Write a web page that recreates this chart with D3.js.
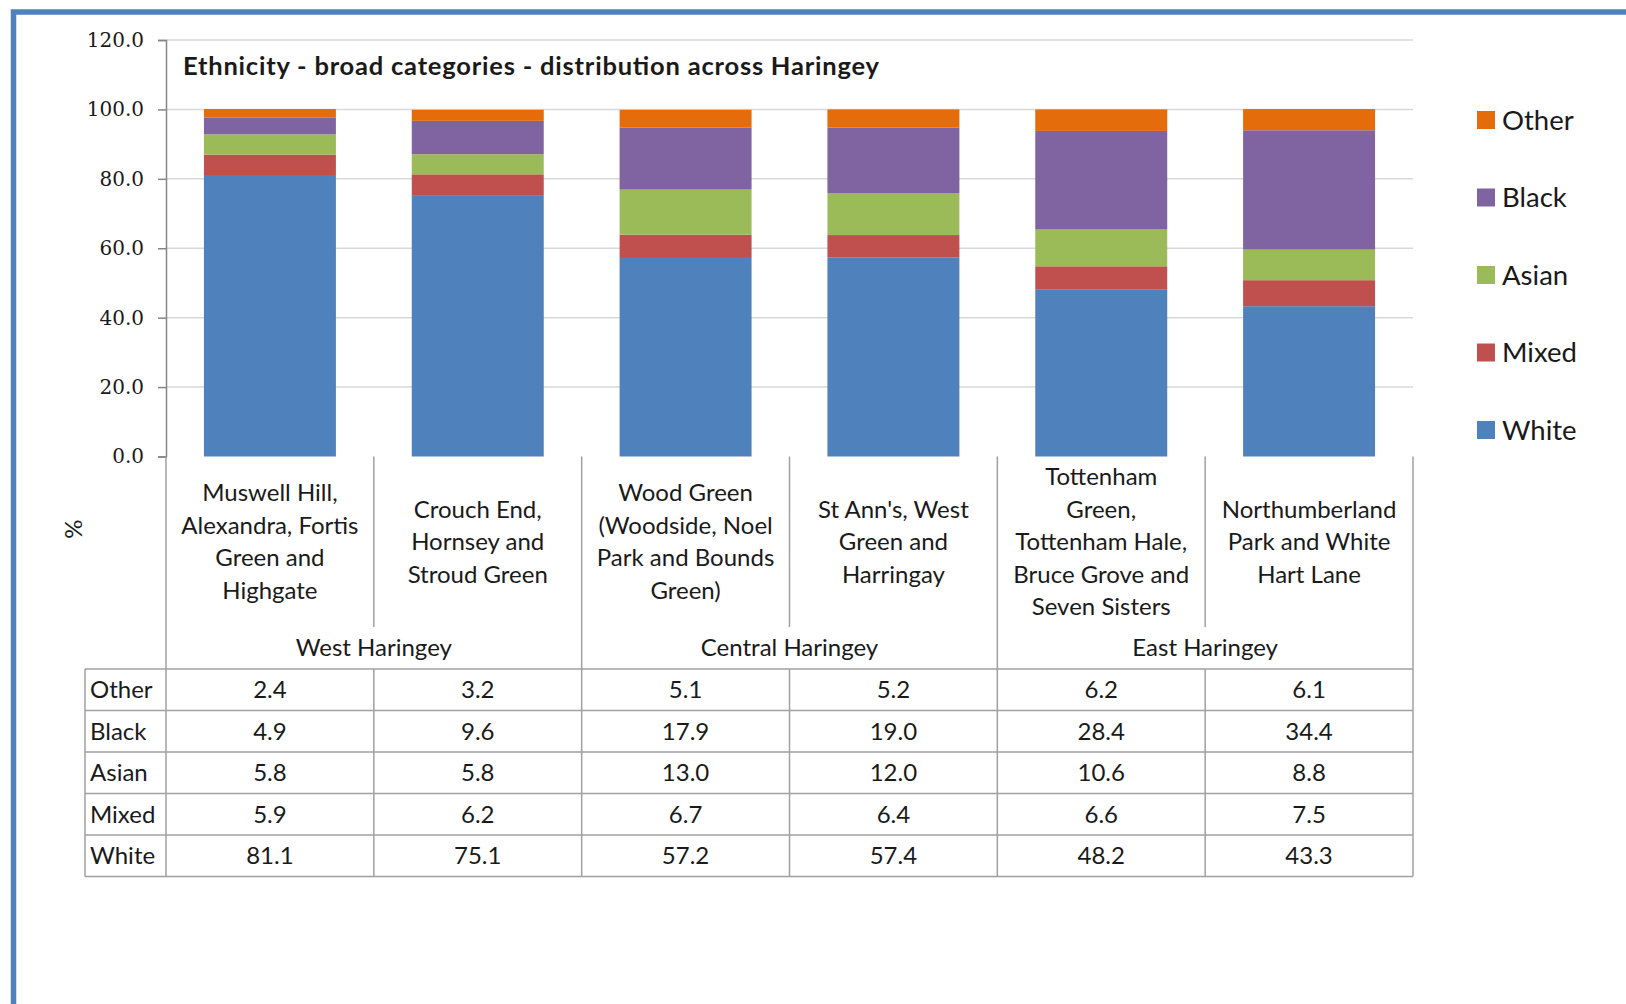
<!DOCTYPE html>
<html>
<head>
<meta charset="utf-8">
<script src="https://cdn.jsdelivr.net/npm/d3@7"></script>
<style>
  html, body { margin: 0; padding: 0; background: #fff; }
  svg { display: block; }
  text { fill: #1a1a1a; }
</style>
</head>
<body>
<svg id="chart" width="1626" height="1004"></svg>
<script>
// data
const categories = [
  ["Muswell Hill,", "Alexandra, Fortis", "Green and", "Highgate"],
  ["Crouch End,", "Hornsey and", "Stroud Green"],
  ["Wood Green", "(Woodside, Noel", "Park and Bounds", "Green)"],
  ["St Ann's, West", "Green and", "Harringay"],
  ["Tottenham", "Green,", "Tottenham Hale,", "Bruce Grove and", "Seven Sisters"],
  ["Northumberland", "Park and White", "Hart Lane"]
]
const groups = ["West Haringey", "Central Haringey", "East Haringey"]
const groupOf = [0, 0, 1, 1, 2, 2]

// stack order bottom -> top
const seriesNames = ["White", "Mixed", "Asian", "Black", "Other"]
const white = [81.1, 75.1, 57.2, 57.4, 48.2, 43.3]
const mixed = [5.9, 6.2, 6.7, 6.4, 6.6, 7.5]
const asian = [5.8, 5.8, 13.0, 12.0, 10.6, 8.8]
const black = [4.9, 9.6, 17.9, 19.0, 28.4, 34.4]
const other = [2.4, 3.2, 5.1, 5.2, 6.2, 6.1]
const colors = ["#4F81BD", "#C0504D", "#9BBB59", "#8064A2", "#E46C0A"]
const yTicks = [0, 20, 40, 60, 80, 100, 120]

const seriesValues = [white, mixed, asian, black, other]
const data = categories.map((c, i) => {
  const row = {idx: i}
  seriesNames.forEach((s, k) => row[s] = seriesValues[k][i])
  return row
})

const svg = d3.select("#chart")
const sans = "Lato, 'Open Sans', sans-serif"

const left = 166, right = 1413
const x = d3.scaleBand()
  .domain(d3.range(categories.length))
  .range([left, right])
  .paddingInner(0.365)
  .paddingOuter(0.1825)
const col = d3.scaleBand()
  .domain(d3.range(categories.length))
  .range([left, right])

const y = d3.scaleLinear()
  .domain([0, 120])
  .range([456.5, 40])

const color = d3.scaleOrdinal().domain(seriesNames).range(colors)

// outer frame (top and left edge only visible)
svg.append("path")
  .attr("d", "M13.5,1004 V12 H1626")
  .attr("fill", "none")
  .attr("stroke", "#4F81BD")
  .attr("stroke-width", 5.5)

// gridlines
svg.append("g")
  .selectAll("line")
  .data(yTicks.filter(d => d > 0))
  .join("line")
    .attr("x1", left).attr("x2", right)
    .attr("y1", d => y(d)).attr("y2", d => y(d))
    .attr("stroke", "#d9d9d9")
    .attr("stroke-width", 1.5)

// y axis
svg.append("g")
  .attr("transform", `translate(${left},0)`)
  .call(d3.axisLeft(y).tickValues(yTicks).tickFormat(d3.format(".1f")).tickSize(8).tickPadding(14))
  .call(g => g.select(".domain").attr("stroke", "#868686").attr("stroke-width", 1.5))
  .call(g => g.selectAll(".tick line").attr("stroke", "#868686").attr("stroke-width", 1.5))
  .call(g => g.selectAll(".tick text")
    .attr("font-family", "'DejaVu Serif', serif")
    .attr("font-size", 20)
    .attr("fill", "#1a1a1a"))

// stacked bars
const stacked = d3.stack().keys(seriesNames)(data)
svg.append("g")
  .selectAll("g")
  .data(stacked)
  .join("g")
    .attr("fill", d => color(d.key))
  .selectAll("rect")
  .data(d => d)
  .join("rect")
    .attr("x", d => x(d.data.idx))
    .attr("width", x.bandwidth())
    .attr("y", d => y(d[1]))
    .attr("height", d => y(d[0]) - y(d[1]))

// title
svg.append("text")
  .attr("x", 183)
  .attr("y", 75)
  .attr("font-family", sans)
  .attr("font-weight", "bold")
  .attr("font-size", 25.5)
  .attr("textLength", 696)
  .attr("lengthAdjust", "spacing")
  .text("Ethnicity - broad categories - distribution across Haringey")

// y label
svg.append("text")
  .attr("transform", "translate(82,529) rotate(-90)")
  .attr("text-anchor", "middle")
  .attr("font-family", sans)
  .attr("font-size", 24)
  .text("%")

// category table under the axis
const lineColor = "#a0a0a0"
const catTop = 456.5, catBottom = 627, groupBottom = 669
const rowH = 41.5
const tableLeft = 85
const table = svg.append("g")
  .attr("stroke", lineColor)
  .attr("stroke-width", 1.5)

// vertical lines: group borders go down through group row, inner ones stop
col.domain().forEach(i => {
  const xs = col(i)
  const isGroupEdge = i === 0 || groupOf[i] !== groupOf[i - 1]
  table.append("line")
    .attr("x1", xs).attr("x2", xs)
    .attr("y1", catTop).attr("y2", isGroupEdge ? groupBottom : catBottom)
})
table.append("line")
  .attr("x1", right).attr("x2", right)
  .attr("y1", catTop).attr("y2", groupBottom + rowH * seriesNames.length)

// category labels
const catText = svg.append("g")
  .attr("font-family", sans)
  .attr("font-size", 24)
  .attr("text-anchor", "middle")
categories.forEach((lines, i) => {
  const cx = col(i) + col.bandwidth() / 2
  const cy = (catTop + catBottom) / 2
  const lh = 32.5
  lines.forEach((t, j) => {
    catText.append("text")
      .attr("x", cx)
      .attr("y", cy + (j - (lines.length - 1) / 2) * lh)
      .attr("dy", "0.35em")
      .text(t)
  })
})

// group labels
groups.forEach((g, gi) => {
  const members = d3.range(categories.length).filter(i => groupOf[i] === gi)
  const x0 = col(members[0]), x1 = col(members[members.length - 1]) + col.bandwidth()
  catText.append("text")
    .attr("x", (x0 + x1) / 2)
    .attr("y", (catBottom + groupBottom) / 2)
    .attr("dy", "0.35em")
    .text(g)
})

// data table, rows top -> bottom: Other ... White
const rows = seriesNames.slice().reverse()
const tableTop = groupBottom
rows.forEach((name, r) => {
  const y0 = tableTop + r * rowH
  table.append("line")
    .attr("x1", tableLeft).attr("x2", right)
    .attr("y1", y0).attr("y2", y0)
  const vals = seriesValues[seriesNames.indexOf(name)]
  catText.append("text")
    .attr("x", tableLeft + 5)
    .attr("y", y0 + rowH / 2)
    .attr("dy", "0.35em")
    .attr("text-anchor", "start")
    .text(name)
  vals.forEach((v, i) => {
    catText.append("text")
      .attr("x", col(i) + col.bandwidth() / 2)
      .attr("y", y0 + rowH / 2)
      .attr("dy", "0.35em")
      .text(d3.format(".1f")(v))
  })
})
const tableBottom = tableTop + rowH * rows.length
table.append("line")
  .attr("x1", tableLeft).attr("x2", right)
  .attr("y1", tableBottom).attr("y2", tableBottom)
table.append("line")
  .attr("x1", tableLeft).attr("x2", tableLeft)
  .attr("y1", tableTop).attr("y2", tableBottom)
col.domain().forEach(i => {
  table.append("line")
    .attr("x1", col(i)).attr("x2", col(i))
    .attr("y1", tableTop).attr("y2", tableBottom)
})

// legend, top -> bottom: Other ... White
const legend = svg.append("g")
  .attr("font-family", sans)
  .attr("font-size", 27.5)
  .selectAll("g")
  .data(rows)
  .join("g")
    .attr("transform", (d, i) => `translate(1477,${120 + i * 77.5})`)
legend.append("rect")
  .attr("y", -9)
  .attr("width", 18)
  .attr("height", 18)
  .attr("fill", d => color(d))
legend.append("text")
  .attr("x", 25)
  .attr("dy", "0.35em")
  .text(d => d)
</script>
</body>
</html>
